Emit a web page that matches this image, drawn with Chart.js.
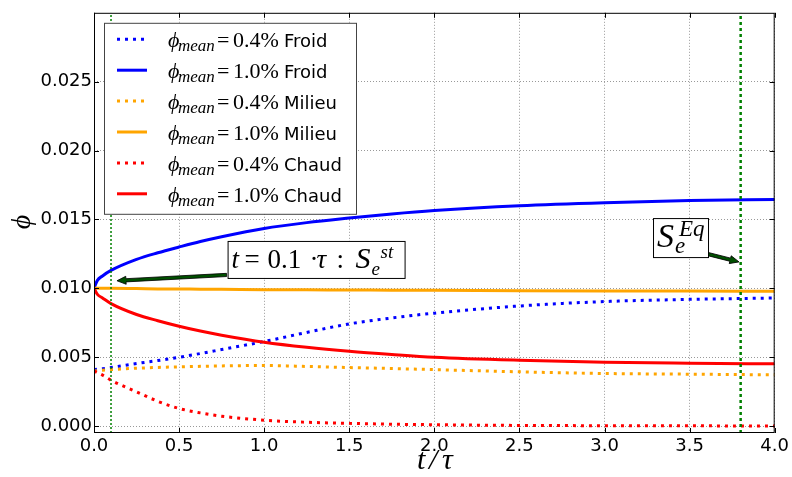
<!DOCTYPE html>
<html>
<head>
<meta charset="utf-8">
<script src="https://cdn.jsdelivr.net/npm/chart.js@4.4.1/dist/chart.umd.min.js"></script>
<style>
  html, body { margin: 0; padding: 0; background: #fff; }
  #wrap { width: 792px; height: 477px; }
</style>
</head>
<body>
<div id="wrap"><canvas id="phiChart" width="792" height="477"></canvas></div>
<script>
// t / tau sample points
const tValues = [0, 0.02, 0.05, 0.1, 0.25, 0.375, 0.5, 0.625, 0.75, 1.0, 1.25, 1.5, 1.75, 2.0, 2.5, 3.0, 3.5, 4.0];

// phi values for each case
const froid04  = [0.0041, 0.00413, 0.00417, 0.00425, 0.00454, 0.00476, 0.0050, 0.00527, 0.00556, 0.00614, 0.0068, 0.00742, 0.00785, 0.0082, 0.00872, 0.00904, 0.0092, 0.0093];
const froid10  = [0.0100, 0.01058, 0.0109, 0.0113, 0.0121, 0.01258, 0.0130, 0.0134, 0.01375, 0.01435, 0.01477, 0.0151, 0.0154, 0.01565, 0.0160, 0.01622, 0.01637, 0.01645];
const milieu04 = [0.0040, 0.00402, 0.00405, 0.0041, 0.0042, 0.00426, 0.0043, 0.00434, 0.00437, 0.0044, 0.00433, 0.00425, 0.00418, 0.0041, 0.00394, 0.00382, 0.00377, 0.00372];
const milieu10 = [0.0100, 0.0100, 0.0100, 0.0100, 0.00998, 0.00996, 0.00995, 0.00994, 0.00993, 0.0099, 0.00989, 0.00988, 0.00987, 0.00986, 0.00983, 0.00981, 0.0098, 0.00978];
const chaud04  = [0.0040, 0.00388, 0.0037, 0.00333, 0.00249, 0.0018, 0.00128, 0.00096, 0.00072, 0.00043, 0.00028, 0.0002, 0.00014, 0.0001, 0.00005, 0.00003, 0.00002, 0.00001];
const chaud10  = [0.0100, 0.00956, 0.0093, 0.00889, 0.0081, 0.00765, 0.00725, 0.0069, 0.0066, 0.00609, 0.00572, 0.00543, 0.0052, 0.0050, 0.00478, 0.00464, 0.00457, 0.00452];

// vertical markers (S_e^st and S_e^Eq)
const markerTimes = [0.1, 3.8];

// axis ticks
const xTicks = [0, 0.5, 1.0, 1.5, 2.0, 2.5, 3.0, 3.5, 4.0];
const yTicks = [0, 0.005, 0.010, 0.015, 0.020, 0.025];

const legendCases = [
  { pct: '0.4%', name: 'Froid',  color: 'blue',   dotted: true },
  { pct: '1.0%', name: 'Froid',  color: 'blue',   dotted: false },
  { pct: '0.4%', name: 'Milieu', color: 'orange', dotted: true },
  { pct: '1.0%', name: 'Milieu', color: 'orange', dotted: false },
  { pct: '0.4%', name: 'Chaud',  color: 'red',    dotted: true },
  { pct: '1.0%', name: 'Chaud',  color: 'red',    dotted: false }
];
const seriesValues = [froid04, froid10, milieu04, milieu10, chaud04, chaud10];

const SERIF = '"Liberation Serif", "DejaVu Serif", serif';
const SANS = '"DejaVu Sans", sans-serif';
const PHI = '\u03d5';
const DOT = [3, 5];

const datasets = seriesValues.map((vals, i) => ({
  label: legendCases[i].pct + ' ' + legendCases[i].name,
  data: tValues.map((t, k) => ({ x: t, y: vals[k] })),
  borderColor: legendCases[i].color,
  borderWidth: 3,
  borderDash: legendCases[i].dotted ? DOT : [],
  borderCapStyle: 'butt',
  pointRadius: 0,
  fill: false,
  cubicInterpolationMode: 'monotone',
  order: 10 - i
}));

markerTimes.forEach((t, i) => {
  datasets.push({
    label: 'marker' + i,
    data: [{ x: t, y: -0.0005 }, { x: t, y: 0.030 }],
    borderColor: 'green',
    borderWidth: i === 0 ? 1.5 : 2.5,
    borderDash: i === 0 ? [2, 2] : [3, 3],
    pointRadius: 0,
    fill: false,
    order: 0
  });
});

// draws a list of text pieces: [text, font, dx, dy]
function drawRuns(ctx, x, y, runs) {
  ctx.textAlign = 'left';
  ctx.textBaseline = 'alphabetic';
  runs.forEach(r => {
    ctx.font = r[1];
    ctx.fillText(r[0], x + r[2], y + r[3]);
  });
}

function drawArrow(ctx, x1, y1, x2, y2) {
  const ang = Math.atan2(y2 - y1, x2 - x1);
  const len = Math.hypot(x2 - x1, y2 - y1);
  const headL = 9, headW = 4, shaft = 1.6;
  ctx.save();
  ctx.translate(x1, y1);
  ctx.rotate(ang);
  ctx.beginPath();
  ctx.moveTo(0, -shaft);
  ctx.lineTo(len - headL, -shaft);
  ctx.lineTo(len - headL, -headW);
  ctx.lineTo(len, 0);
  ctx.lineTo(len - headL, headW);
  ctx.lineTo(len - headL, shaft);
  ctx.lineTo(0, shaft);
  ctx.closePath();
  ctx.fillStyle = '#005000';
  ctx.fill();
  ctx.strokeStyle = '#000';
  ctx.lineWidth = 0.8;
  ctx.stroke();
  ctx.restore();
}

const overlay = {
  id: 'overlay',
  afterDraw(chart) {
    const ctx = chart.ctx;
    const a = chart.chartArea;
    const xs = chart.scales.x, ys = chart.scales.y;
    ctx.save();

    // inward ticks on all four sides
    ctx.strokeStyle = '#000';
    ctx.lineWidth = 1;
    ctx.beginPath();
    xTicks.forEach(v => {
      const px = Math.round(xs.getPixelForValue(v)) + 0.5;
      ctx.moveTo(px, a.bottom); ctx.lineTo(px, a.bottom - 5);
      ctx.moveTo(px, a.top); ctx.lineTo(px, a.top + 5);
    });
    yTicks.forEach(v => {
      const py = Math.round(ys.getPixelForValue(v)) + 0.5;
      ctx.moveTo(a.left, py); ctx.lineTo(a.left + 5, py);
      ctx.moveTo(a.right, py); ctx.lineTo(a.right - 5, py);
    });
    ctx.stroke();

    // frame
    ctx.strokeRect(a.left + 0.5, a.top + 0.5, a.right - a.left - 1, a.bottom - a.top - 1);

    ctx.fillStyle = '#000';
    // axis titles
    drawRuns(ctx, 417, 469, [
      ['t', 'italic 30px ' + SERIF, 0, 0],
      ['/', 'italic 30px ' + SERIF, 12, 0],
      ['\u03c4', 'italic 30px ' + SERIF, 25, 0]
    ]);
    ctx.save();
    ctx.translate(30, 222);
    ctx.rotate(-Math.PI / 2);
    ctx.font = 'italic 28px ' + SERIF;
    ctx.textAlign = 'center';
    ctx.fillText(PHI, 0, 0);
    ctx.restore();

    // legend
    const lx = a.left + 10, ly = a.top + 10;
    ctx.fillStyle = '#fff';
    ctx.fillRect(lx, ly, 252, 191);
    ctx.strokeStyle = '#444';
    ctx.lineWidth = 1;
    ctx.strokeRect(lx + 0.5, ly + 0.5, 252, 191);
    legendCases.forEach((c, i) => {
      const cy = ly + 16.5 + i * 30.9;
      ctx.beginPath();
      ctx.strokeStyle = c.color;
      ctx.lineWidth = 3;
      ctx.lineCap = 'butt';
      ctx.setLineDash(c.dotted ? DOT : []);
      ctx.moveTo(lx + 13, cy);
      ctx.lineTo(lx + 43, cy);
      ctx.stroke();
      ctx.setLineDash([]);
      ctx.fillStyle = '#000';
      drawRuns(ctx, lx + 64, cy + 8, [
        [PHI, 'italic 22px ' + SERIF, 0, 0],
        ['mean', 'italic 17px ' + SERIF, 10, 4],
        ['=', '22px ' + SERIF, 49, 0],
        [c.pct, '22px ' + SERIF, 65, 0],
        [c.name, '18px ' + SANS, 116, 0]
      ]);
    });

    // annotation S_e^st
    const b1x = xs.getPixelForValue(0.785), b1y = ys.getPixelForValue(0.01344);
    drawArrow(ctx, b1x - 1, b1y + 34, xs.getPixelForValue(0.135), ys.getPixelForValue(0.01055));
    ctx.fillStyle = '#fff';
    ctx.fillRect(b1x, b1y, 177, 37);
    ctx.strokeStyle = '#000';
    ctx.lineWidth = 1;
    ctx.strokeRect(b1x + 0.5, b1y + 0.5, 177, 37);
    ctx.fillStyle = '#000';
    drawRuns(ctx, b1x + 3, b1y + 27, [
      ['t', 'italic 27px ' + SERIF, 1, 0],
      ['=', '27px ' + SERIF, 14, 0],
      ['0.1', '27px ' + SERIF, 37, 0],
      ['\u00b7', '27px ' + SERIF, 79, 0],
      ['\u03c4', 'italic 27px ' + SERIF, 86, 0],
      [':', '27px ' + SERIF, 106, 0],
      ['S', 'italic 30px ' + SERIF, 125, 0],
      ['e', 'italic 19px ' + SERIF, 141, 7],
      ['st', 'italic 19px ' + SERIF, 150, -10]
    ]);

    // annotation S_e^Eq
    const b2x = xs.getPixelForValue(3.285), b2y = ys.getPixelForValue(0.0151);
    drawArrow(ctx, b2x + 55, b2y + 36, xs.getPixelForValue(3.79), ys.getPixelForValue(0.01192));
    ctx.fillStyle = '#fff';
    ctx.fillRect(b2x, b2y, 55, 39);
    ctx.strokeStyle = '#000';
    ctx.strokeRect(b2x + 0.5, b2y + 0.5, 55, 39);
    ctx.fillStyle = '#000';
    drawRuns(ctx, b2x + 4, b2y + 29, [
      ['S', 'italic 34px ' + SERIF, 0, 0],
      ['e', 'italic 23px ' + SERIF, 18, 6],
      ['Eq', 'italic 23px ' + SERIF, 22, -11]
    ]);

    ctx.restore();
  }
};

const ctx = document.getElementById('phiChart').getContext('2d');
const phiChart = new Chart(ctx, {
  type: 'line',
  data: { datasets: datasets },
  options: {
    responsive: false,
    animation: false,
    layout: { padding: { top: 11, right: 17, left: 0, bottom: 0 } },
    plugins: {
      legend: { display: false },
      tooltip: { enabled: false }
    },
    scales: {
      x: {
        type: 'linear',
        min: 0,
        max: 4,
        afterBuildTicks: scale => { scale.ticks = xTicks.map(v => ({ value: v })); },
        afterFit: scale => { scale.height = 44; },
        ticks: {
          callback: v => v.toFixed(1),
          color: '#000',
          font: { family: SANS, size: 18 },
          padding: 3,
          maxRotation: 0,
          autoSkip: false
        },
        grid: { color: '#999', lineWidth: 1, drawTicks: false },
        border: { display: false, dash: [1, 2] }
      },
      y: {
        type: 'linear',
        min: -0.0005,
        max: 0.030,
        afterBuildTicks: scale => { scale.ticks = yTicks.map(v => ({ value: v })); },
        afterFit: scale => { scale.width = 94; },
        ticks: {
          callback: v => v.toFixed(3),
          color: '#000',
          font: { family: SANS, size: 18 },
          padding: 2,
          autoSkip: false
        },
        grid: { color: '#999', lineWidth: 1, drawTicks: false },
        border: { display: false, dash: [1, 2] }
      }
    }
  },
  plugins: [overlay]
});
</script>
</body>
</html>
